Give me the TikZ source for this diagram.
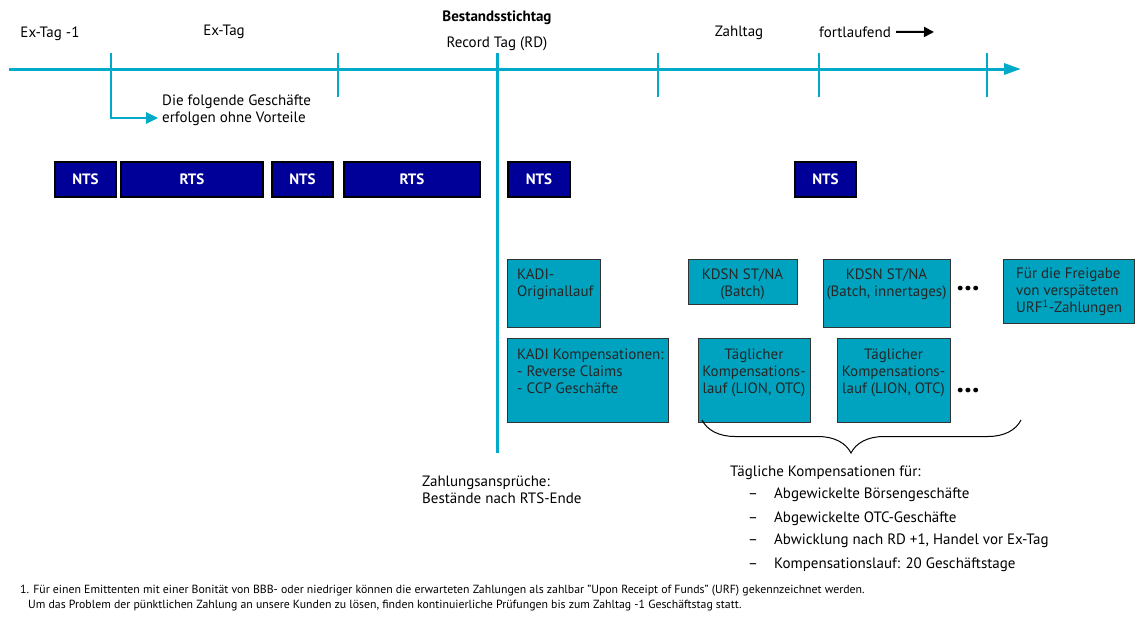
\documentclass[tikz,border=0pt]{standalone}
\usepackage{fontspec}
\setmainfont{PT Sans}
\usepackage{xcolor}
\definecolor{Col1}{RGB}{0,170,200}
\definecolor{Col2}{RGB}{0,163,191}
\definecolor{Col3}{RGB}{0,0,153}
\usepackage{tikz}
\usetikzlibrary{arrows.meta}
\usetikzlibrary{decorations.pathreplacing}
\tikzstyle{Axis}=[draw=Col1,line width=3pt]
\tikzstyle{Tick}=[draw=Col1,line width=2.5pt]
\tikzstyle{Session}=[rectangle,draw=black,line width=1.2pt,fill=Col3,
minimum height=35pt,inner sep=0pt,text=white,font=\fontsize{15}{17}\selectfont\bfseries]
\tikzstyle{Run}=[rectangle,draw=black!80,line width=1pt,fill=Col2,inner sep=0pt]
\tikzstyle{RunText}=[inner sep=0pt,text=black!85]
\tikzstyle{Label}=[inner sep=0pt,anchor=base]
\tikzstyle{Dots}=[inner sep=0pt,font=\fontsize{30}{30}\selectfont\bfseries]

\begin{document}
\begin{tikzpicture}[x=1pt,y=1pt,font=\fontsize{15}{17}\selectfont]
        \useasboundingbox(0,0)rectangle(1138,-616);
        \coordinate(a0)at(9,-69);
        \coordinate(a1)at(1021,-69);
        \draw[Axis,-{Triangle[length=17pt,width=11pt]}](a0)--(a1);
        \coordinate(e0)at(111,-53);
        \coordinate(e1)at(111,-118);
        \coordinate(e2)at(158,-118);
        \draw[Tick,-{Triangle[length=12pt,width=11pt]}](e0)--(e1)--(e2);
        \coordinate(t1)at(338,-53);
        \coordinate(b1)at(338,-97);
        \coordinate(t2)at(497,-53);
        \coordinate(b2)at(497,-453);
        \coordinate(t3)at(658,-53);
        \coordinate(b3)at(658,-97);
        \coordinate(t4)at(819,-53);
        \coordinate(b4)at(819,-97);
        \coordinate(t5)at(987,-53);
        \coordinate(b5)at(987,-97);
        \draw[Tick](t1)--(b1);
        \draw[Axis](t2)--(b2);
        \draw[Tick](t3)--(b3);
        \draw[Tick](t4)--(b4);
        \draw[Tick](t5)--(b5);
        \node[Label](l1)at(50,-37){Ex-Tag -1};
        \node[Label](l2)at(224,-35){Ex-Tag};
        \node[Label,font=\fontsize{15}{17}\selectfont\bfseries](l3)
            at(497,-21){Bestandsstichtag};
        \node[Label](l4)at(497,-47){Record Tag (RD)};
        \node[Label](l5)at(739,-36){Zahltag};
        \node[Label](l6)at(855,-37){fortlaufend};
        \coordinate(f1)at(934,-32);
        \draw[line width=2pt,-{Triangle[length=10pt,width=10pt]}]
            ([xshift=5pt]l6.east)--(f1);
        \node[inner sep=0pt,anchor=north west,align=left](n1)at(162,-95)
            {Die folgende Geschäfte\\erfolgen ohne Vorteile};
        \node[Session,minimum width=61pt](s1)at(85.5,-179.5){NTS};
        \node[Session,minimum width=142pt](s2)at(192,-179.5){RTS};
        \node[Session,minimum width=61pt](s3)at(302.5,-179.5){NTS};
        \node[Session,minimum width=136pt](s4)at(412,-179.5){RTS};
        \node[Session,minimum width=62pt](s5)at(539,-179.5){NTS};
        \node[Session,minimum width=61pt](s6)at(825.5,-179.5){NTS};
        \node[Run,minimum width=93pt,minimum height=68pt](k1)at(553.5,-293){};
        \node[Run,minimum width=109pt,minimum height=45pt](k2)at(742.5,-281.5){};
        \node[Run,minimum width=127pt,minimum height=68pt](k3)at(886.5,-293){};
        \node[Run,minimum width=131pt,minimum height=64pt](k4)at(1068.5,-291){};
        \node[Run,minimum width=161pt,minimum height=84pt](k5)at(587.5,-380){};
        \node[Run,minimum width=112pt,minimum height=84pt](k6)at(754,-380){};
        \node[Run,minimum width=113pt,minimum height=84pt](k7)at(893.5,-380){};
        \node[RunText,anchor=north west,align=left](r1)at(517,-269)
            {KADI-\\Originallauf};
        \node[RunText,anchor=north,align=center](r2)at(742.5,-269)
            {KDSN ST/NA\\(Batch)};
        \node[RunText,anchor=north,align=center](r3)at(886.5,-269)
            {KDSN ST/NA\\(Batch, innertages)};
        \node[RunText,anchor=north west,align=left](r4)at(1016,-268)
            {Für die Freigabe\\von verspäteten\\URF\textsuperscript{1}-Zahlungen};
        \node[RunText,anchor=north west,align=left](r5)at(517,-349)
            {KADI Kompensationen:\\- Reverse Claims\\- CCP Geschäfte};
        \node[RunText,anchor=north,align=center](r6)at(754,-349)
            {Täglicher\\Kompensations-\\lauf (LION, OTC)};
        \node[RunText,anchor=north,align=center](r7)at(893.5,-349)
            {Täglicher\\Kompensations-\\lauf (LION, OTC)};
        \node[Dots](d1)at(968,-289){...};
        \node[Dots](d2)at(968,-391){...};
        \coordinate(c0)at(1021,-420);
        \coordinate(c1)at(702,-420);
        \draw[decorate,decoration={brace,amplitude=33pt,aspect=0.533},
            line width=1pt](c0)--(c1);
        \node[inner sep=0pt,anchor=north west,align=left](z1)at(422,-476)
            {Zahlungsansprüche:\\Bestände nach RTS-Ende};
        \node[Label,anchor=base west](g0)at(730,-476)
            {Tägliche Kompensationen für:};
        \node[Label,anchor=base west](g1)at(748,-498)
            {\makebox[26pt][l]{–}Abgewickelte Börsengeschäfte};
        \node[Label,anchor=base west](g2)at(748,-522)
            {\makebox[26pt][l]{–}Abgewickelte OTC-Geschäfte};
        \node[Label,anchor=base west](g3)at(748,-544)
            {\makebox[26pt][l]{–}Abwicklung nach RD +1, Handel vor Ex-Tag};
        \node[Label,anchor=base west](g4)at(748,-568)
            {\makebox[26pt][l]{–}Kompensationslauf: 20 Geschäftstage};
        \node[inner sep=0pt,anchor=north west,align=left,
            font=\fontsize{11.8}{15}\selectfont](fn)at(20,-585)
            {1. Für einen Emittenten mit einer Bonität von BBB- oder niedriger
            können die erwarteten Zahlungen als zahlbar "Upon Receipt of Funds"
            (URF) gekennzeichnet werden.\\\hspace*{8pt}Um das Problem der
            pünktlichen Zahlung an unsere Kunden zu lösen, finden kontinuierliche
            Prüfungen bis zum Zahltag -1 Geschäftstag statt.};
    \end{tikzpicture}
\end{document}
